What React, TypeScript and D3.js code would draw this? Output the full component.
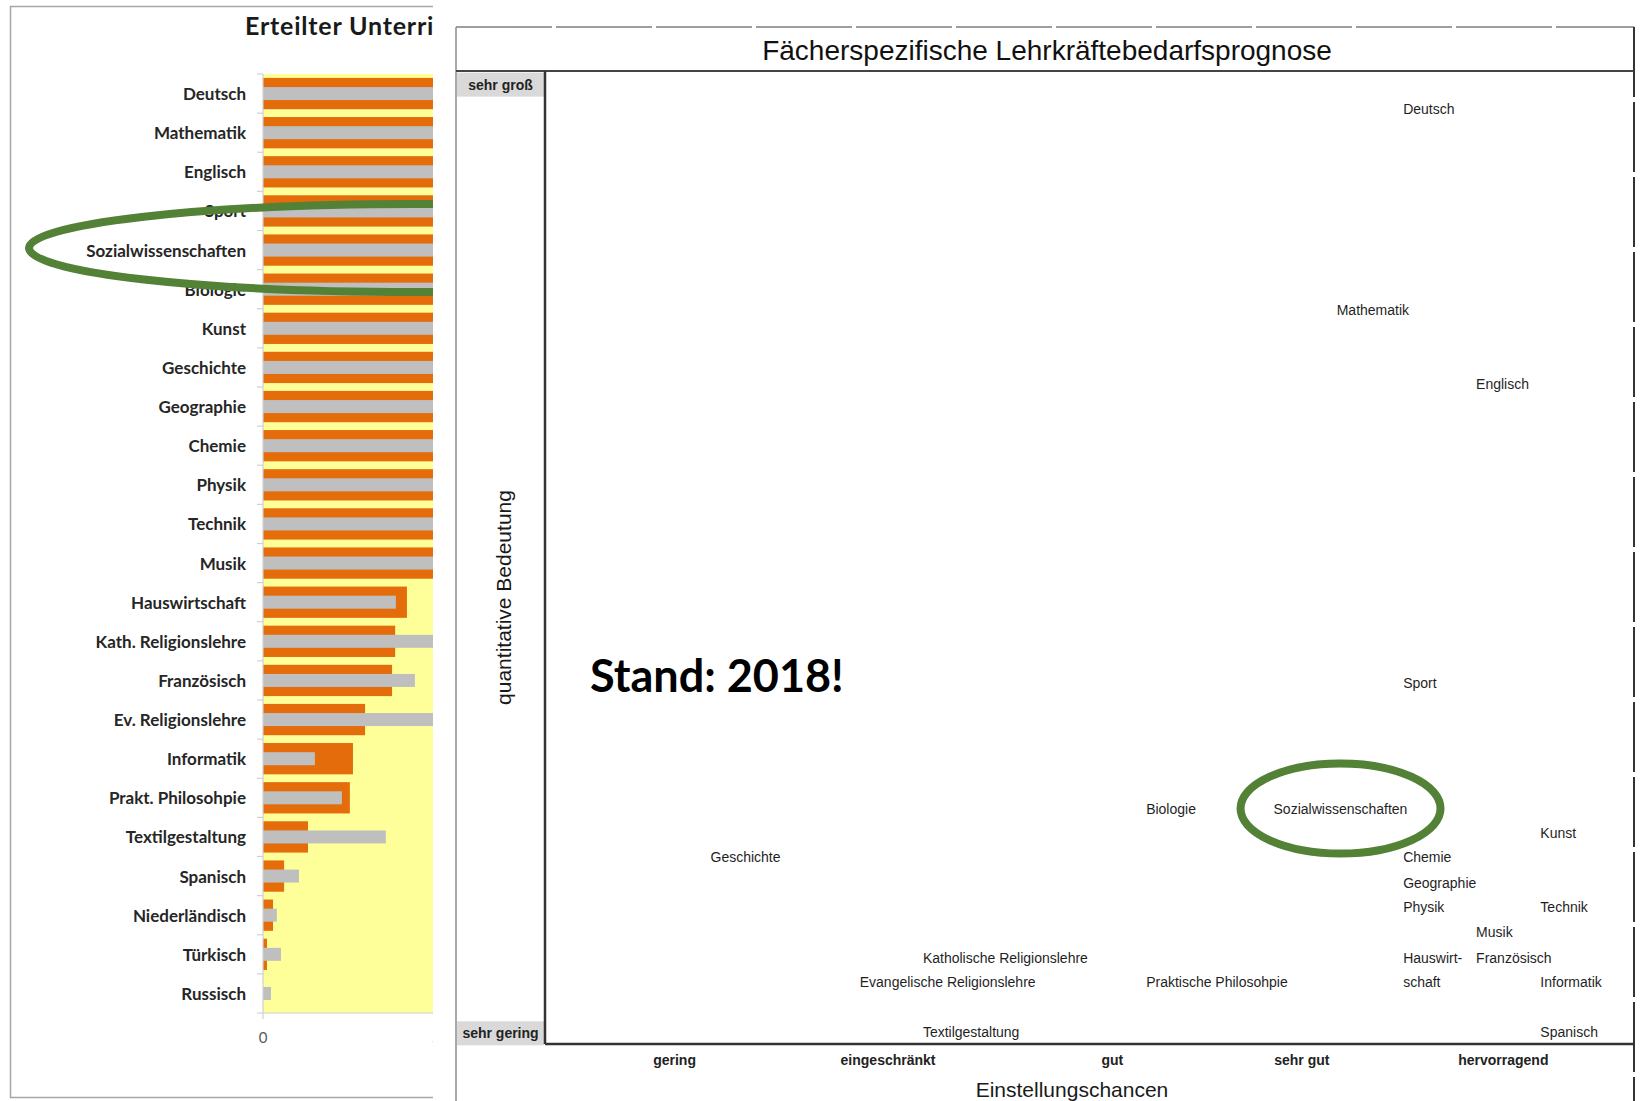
import React from 'react';
import * as d3 from 'd3';

const W = 1640;
const H = 1101;

// ---- left chart (cropped in the reference): lessons per subject, in thousands
const barCategories = [
    "Deutsch", "Mathematik", "Englisch", "Sport", "Sozialwissenschaften", "Biologie",
    "Kunst", "Geschichte", "Geographie", "Chemie", "Physik", "Technik", "Musik",
    "Hauswirtschaft", "Kath. Religionslehre", "Französisch", "Ev. Religionslehre",
    "Informatik", "Prakt. Philosohpie", "Textilgestaltung", "Spanisch",
    "Niederländisch", "Türkisch", "Russisch",
];
const orangeValues = [
    52, 45, 33, 22, 18, 17, 15, 14, 12, 10.5, 10, 9, 8.5,
    4.16, 3.82, 3.73, 2.95, 2.6, 2.51, 1.3, 0.61, 0.29, 0.115, 0,
];
const grayValues = [
    50, 44, 30, 21, 16, 16.5, 14, 13.5, 11, 9.8, 9.5, 8, 8,
    3.84, 5.6, 4.39, 5.2, 1.5, 2.28, 3.55, 1.04, 0.4, 0.52, 0.23,
];
const barTicks = [0, 5];

// ---- right chart: subject-specific forecast
const subjects = [
    "Deutsch", "Mathematik", "Englisch", "Sport", "Biologie", "Sozialwissenschaften",
    "Kunst", "Geschichte", "Chemie", "Geographie", "Physik", "Technik", "Musik",
    "Katholische Religionslehre", "Hauswirt-\nschaft", "Französisch",
    "Evangelische Religionslehre", "Praktische Philosohpie", "Informatik",
    "Textilgestaltung", "Spanisch",
];
const chances = [
    78.8, 72.7, 85.5, 78.8, 55.2, 66.9,
    91.4, 15.2, 78.8, 78.8, 78.8, 91.4, 85.5,
    34.7, 78.8, 85.5,
    28.9, 55.2, 91.4,
    34.7, 91.4,
];
const importance = [
    96.1, 75.4, 67.8, 37.1, 24.2, 24.2,
    21.7, 19.2, 19.2, 16.5, 14.1, 14.1, 11.5,
    8.8, 8.8, 8.8,
    6.4, 6.4, 6.4,
    1.2, 1.2,
];
const chanceLabels = ["gering", "eingeschränkt", "gut", "sehr gut", "hervorragend"];
const chanceTickValues = [11.9, 31.5, 52.1, 69.5, 88.0];
const importanceLabels = ["sehr groß", "sehr gering"];
const importanceTickValues = [98.6, 1.1];

const ORANGE = "#E46C0A";
const GRAY = "#BFBFBF";
const YELLOW = "#FFFF99";
const GREEN = "#538135";
const calibri = "Lato, 'Open Sans', sans-serif";
const arial = "'Liberation Sans', Arial, sans-serif";

function LeftChart() {
    const clipRight = 433;
    const x = d3.scaleLinear().domain([0, 5]).range([263, 436]);
    const y = d3.scaleBand<string>()
        .domain(barCategories)
        .range([74, 1013])
        .paddingInner(0.2)
        .paddingOuter(0.1);
    const bw = y.bandwidth();
    const grayH = 13;
    const boundaries = d3.range(barCategories.length + 1).map(i => 74 + i * y.step());
    const sozY = (y("Sozialwissenschaften") ?? 0) + bw / 2;

    return (
        <g>
            <defs>
                <clipPath id="leftClip">
                    <rect x={0} y={0} width={clipRight} height={H} />
                </clipPath>
            </defs>
            <g clipPath="url(#leftClip)">
                {/* frame */}
                <rect x={10.5} y={6.5} width={600} height={1091} fill="none" stroke="#A6A6A6" strokeWidth={1.5} />
                <text x={245} y={35} fontFamily={calibri} fontWeight={700} fontSize={25} letterSpacing={0.8} fill="#1a1a1a">
                    Erteilter Unterricht
                </text>
                {/* plot background */}
                <rect x={x(0)} y={74} width={400} height={1013 - 74} fill={YELLOW} />
                {barCategories.map((c, i) => (
                    <rect key={"o" + c} x={x(0)} y={y(c)} width={x(orangeValues[i]) - x(0)} height={bw} fill={ORANGE} />
                ))}
                {barCategories.map((c, i) => (
                    <rect key={"g" + c} x={x(0)} y={(y(c) ?? 0) + bw / 2 - grayH / 2}
                        width={x(grayValues[i]) - x(0)} height={grayH} fill={GRAY} />
                ))}
                {/* axes */}
                <line x1={x(0)} x2={x(0)} y1={74} y2={1013} stroke="#D0D0D0" strokeWidth={1.2} />
                <line x1={x(0)} x2={500} y1={1013} y2={1013} stroke="#D0D0D0" strokeWidth={1.2} />
                {boundaries.map((b, i) => (
                    <line key={"t" + i} x1={x(0) - 6} x2={x(0)} y1={b} y2={b} stroke="#D0D0D0" strokeWidth={1.2} />
                ))}
                {barTicks.map(t => (
                    <g key={"xt" + t}>
                        <line x1={x(t)} x2={x(t)} y1={1013} y2={1019} stroke="#D0D0D0" strokeWidth={1.2} />
                        <text x={x(t)} y={1037} textAnchor="middle" dominantBaseline="central"
                            fontFamily={calibri} fontSize={15} fill="#595959">{t}</text>
                    </g>
                ))}
                {barCategories.map(c => (
                    <text key={"l" + c} x={246} y={(y(c) ?? 0) + bw / 2} textAnchor="end" dominantBaseline="central"
                        fontFamily={calibri} fontWeight={700} fontSize={17} fill="#262626">{c}</text>
                ))}
                {/* highlight */}
                <ellipse cx={414} cy={sozY - 2} rx={385} ry={44} fill="none" stroke={GREEN} strokeWidth={8} />
            </g>
        </g>
    );
}

function RightChart() {
    const panel = { left: 456, top: 27, right: 1634, bottom: H };
    const plot = { left: 545, top: 71, right: 1634, bottom: 1044 };
    const x = d3.scaleLinear().domain([0, 100]).range([plot.left, plot.right]);
    const y = d3.scaleLinear().domain([0, 100]).range([plot.bottom, plot.top]);
    const sozIdx = subjects.indexOf("Sozialwissenschaften");

    return (
        <g>
            <rect x={panel.left} y={panel.top} width={panel.right - panel.left} height={panel.bottom - panel.top} fill="#fff" />
            {/* frame */}
            <line x1={panel.left} x2={panel.right} y1={panel.top} y2={panel.top} stroke="#7F7F7F" strokeWidth={1.5} strokeDasharray="96 4" />
            <line x1={panel.left} x2={panel.left} y1={panel.top} y2={panel.bottom} stroke="#8C8C8C" strokeWidth={1.5} />
            <line x1={panel.right} x2={panel.right} y1={panel.top} y2={panel.bottom} stroke="#333" strokeWidth={2} strokeDasharray="70 5" />
            <line x1={panel.left} x2={panel.right} y1={plot.top} y2={plot.top} stroke="#444" strokeWidth={2} />
            <text x={(panel.left + panel.right) / 2 + 2} y={60} textAnchor="middle" fontFamily={arial} fontSize={28} fill="#111">
                Fächerspezifische Lehrkräftebedarfsprognose
            </text>

            {/* y categories */}
            {importanceLabels.map((l, i) => (
                <g key={l}>
                    <rect x={panel.left + 1} y={y(importanceTickValues[i]) - 12} width={plot.left - panel.left - 2} height={24} fill="#D9D9D9" />
                    <text x={(panel.left + plot.left) / 2} y={y(importanceTickValues[i])} textAnchor="middle" dominantBaseline="central"
                        fontFamily={arial} fontWeight={700} fontSize={14} fill="#222">{l}</text>
                </g>
            ))}
            <text transform={`translate(503,${(plot.top + plot.bottom) / 2 + 40}) rotate(-90)`} textAnchor="middle" dominantBaseline="central"
                fontFamily={arial} fontSize={21} fill="#1a1a1a">quantitative Bedeutung</text>

            {/* plot border */}
            <line x1={plot.left} x2={plot.left} y1={plot.top} y2={plot.bottom} stroke="#333" strokeWidth={2.5} />
            <line x1={plot.left} x2={plot.right} y1={plot.bottom} y2={plot.bottom} stroke="#333" strokeWidth={2.5} />

            {/* x categories */}
            {chanceLabels.map((l, i) => (
                <text key={l} x={x(chanceTickValues[i])} y={1060} textAnchor="middle" dominantBaseline="central"
                    fontFamily={arial} fontWeight={700} fontSize={14} fill="#222">{l}</text>
            ))}
            <text x={1072} y={1097} textAnchor="middle" fontFamily={arial} fontSize={21} fill="#1a1a1a">Einstellungschancen</text>

            {/* subjects */}
            {subjects.map((s, i) => (
                <text key={s} x={x(chances[i])} y={y(importance[i])} dominantBaseline="central"
                    fontFamily={arial} fontSize={14} fill="#1f1f1f">
                    {s.split("\n").map((line, j) => (
                        <tspan key={j} x={x(chances[i])} dy={j === 0 ? 0 : 24}>{line}</tspan>
                    ))}
                </text>
            ))}

            <ellipse cx={x(chances[sozIdx]) + 67} cy={y(importance[sozIdx])} rx={100} ry={45}
                fill="none" stroke={GREEN} strokeWidth={8} />

            <text x={590} y={692} fontFamily={calibri} fontWeight={700} fontSize={45} fill="#000">Stand: 2018!</text>
        </g>
    );
}

export default function App() {
    return (
        <div style={{ position: 'absolute', left: 0, top: 0 }}>
            <svg width={W} height={H} viewBox={`0 0 ${W} ${H}`} style={{ display: 'block', background: '#fff' }}>
                <LeftChart />
                <RightChart />
            </svg>
        </div>
    );
}
